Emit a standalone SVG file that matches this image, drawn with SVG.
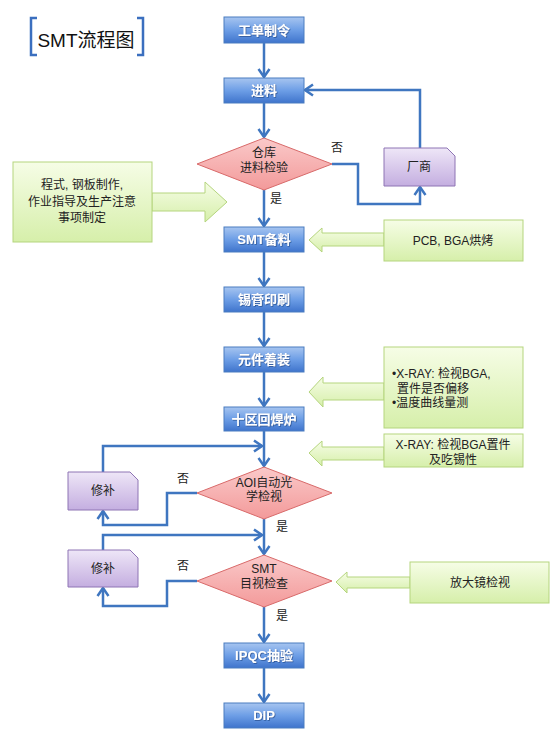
<svg xmlns="http://www.w3.org/2000/svg" width="560" height="745" viewBox="0 0 560 745">
<defs>
<linearGradient id="gBlue" x1="0" y1="0" x2="0" y2="1">
<stop offset="0" stop-color="#a7c5f0"/><stop offset="0.5" stop-color="#6d9ee6"/><stop offset="1" stop-color="#3f74cc"/>
</linearGradient>
<linearGradient id="gRed" x1="0" y1="0" x2="0" y2="1">
<stop offset="0" stop-color="#fac9c9"/><stop offset="1" stop-color="#f39a9a"/>
</linearGradient>
<linearGradient id="gPurple" x1="0" y1="0" x2="0" y2="1">
<stop offset="0" stop-color="#eee6f7"/><stop offset="1" stop-color="#c4aee0"/>
</linearGradient>
<linearGradient id="gGreen" x1="0" y1="0" x2="0" y2="1">
<stop offset="0" stop-color="#f6fde6"/><stop offset="1" stop-color="#d6efaa"/>
</linearGradient>
<marker id="arr" markerUnits="userSpaceOnUse" markerWidth="14" markerHeight="14" viewBox="0 0 14 14" refX="12" refY="7" orient="auto">
<path d="M4,1.5 L12,7 L4,12.5" fill="none" stroke="#3f76c0" stroke-width="2.5"/>
</marker>
<filter id="ts" x="-20%" y="-20%" width="140%" height="140%">
<feDropShadow dx="0.8" dy="0.8" stdDeviation="0.6" flood-color="#1c3f7a" flood-opacity="0.7"/>
</filter>
</defs>
<style>
.box{fill:url(#gBlue);stroke:#4a7cc0;stroke-width:1}
.btxt{font-family:"Liberation Sans","Noto Sans CJK SC",sans-serif;font-size:13px;font-weight:bold;fill:#ffffff;text-anchor:middle}
.dia{fill:url(#gRed);stroke:#d86a6a;stroke-width:1}
.dtxt{font-family:"Liberation Sans","Noto Sans CJK SC",sans-serif;font-size:12px;fill:#222222;text-anchor:middle}
.pur{fill:url(#gPurple);stroke:#8e74b4;stroke-width:1}
.grn{fill:url(#gGreen);stroke:#b5d57e;stroke-width:1}
.txt{font-family:"Liberation Sans","Noto Sans CJK SC",sans-serif;font-size:12px;fill:#222222}
.mid{text-anchor:middle}
.con{fill:none;stroke:#3f76c0;stroke-width:2.5}
</style>
<g id="title">
<path d="M37,18 H31 V55 H37 M137,18 H143 V55 H137" fill="none" stroke="#3b6fbf" stroke-width="2.5"/>
<text x="86" y="47" font-family="Liberation Sans,'Noto Sans CJK SC',sans-serif" font-size="19" fill="#111" text-anchor="middle">SMT流程图</text>
</g>
<g id="connectors">
<path class="con" d="M264,43 V77" marker-end="url(#arr)"/>
<path class="con" d="M264,103 V137" marker-end="url(#arr)"/>
<path class="con" d="M264,190 V226" marker-end="url(#arr)"/>
<path class="con" d="M264,252 V286" marker-end="url(#arr)"/>
<path class="con" d="M264,312 V346" marker-end="url(#arr)"/>
<path class="con" d="M264,372 V406" marker-end="url(#arr)"/>
<path class="con" d="M264,431 V466" marker-end="url(#arr)"/>
<path class="con" d="M264,519 V554" marker-end="url(#arr)"/>
<path class="con" d="M264,607 V642" marker-end="url(#arr)"/>
<path class="con" d="M264,668 V702" marker-end="url(#arr)"/>
<path class="con" d="M332,164 H358 V204 H420 V187" marker-end="url(#arr)"/>
<path class="con" d="M420,148 V90 H305" marker-end="url(#arr)"/>
<path class="con" d="M197,493 H167 V525 H103 V511" marker-end="url(#arr)"/>
<path class="con" d="M103,472 V446 H262" marker-end="url(#arr)"/>
<path class="con" d="M197,581 H167 V606 H103 V588" marker-end="url(#arr)"/>
<path class="con" d="M103,550 V535 H262" marker-end="url(#arr)"/>
</g>
<g id="n1"><rect class="box" x="224" y="17" width="80" height="26"/><text class="btxt" x="264" y="35" filter="url(#ts)">工单制令</text></g>
<g id="n2"><rect class="box" x="224" y="78" width="80" height="25"/><text class="btxt" x="264" y="95" filter="url(#ts)">进料</text></g>
<g id="d1"><polygon class="dia" points="264,138 332,164 264,190 197,164"/><text class="dtxt" x="264" y="157">仓库</text><text class="dtxt" x="264" y="172">进料检验</text></g>
<g id="lbl1"><text class="txt" x="331" y="152">否</text><text class="txt" x="270" y="203">是</text></g>
<g id="vendor"><path class="pur" d="M384,148 H447 L455,156 V186 H384 Z"/><text class="txt mid" x="419" y="171">厂商</text></g>
<g id="c1"><polygon class="grn" points="152,193 205,193 205,182 227,202 205,222 205,211 152,211"/><rect class="grn" x="13" y="162" width="139" height="80"/>
<text class="txt mid" x="82" y="189">程式, 钢板制作,</text><text class="txt mid" x="82" y="206">作业指导及生产注意</text><text class="txt mid" x="82" y="222">事项制定</text></g>
<g id="n3"><rect class="box" x="224" y="227" width="80" height="25"/><text class="btxt" x="264" y="244" filter="url(#ts)">SMT备料</text></g>
<g id="c2"><polygon class="grn" points="384,233 322,233 322,228 309,240 322,252 322,246 384,246"/><rect class="grn" x="384" y="220" width="139" height="41"/><text class="txt mid" x="453" y="245">PCB, BGA烘烤</text></g>
<g id="n4"><rect class="box" x="224" y="287" width="80" height="25"/><text class="btxt" x="264" y="304" filter="url(#ts)">锡膏印刷</text></g>
<g id="n5"><rect class="box" x="224" y="347" width="80" height="25"/><text class="btxt" x="264" y="364" filter="url(#ts)">元件着装</text></g>
<g id="c3"><polygon class="grn" points="384,383 323,383 323,377 309,392 323,407 323,400 384,400"/><rect class="grn" x="384" y="347" width="139" height="81"/>
<text class="txt" x="392" y="378">•X-RAY: 检视BGA,</text><text class="txt" x="397" y="393">置件是否偏移</text><text class="txt" x="392" y="407">•温度曲线量测</text></g>
<g id="n6"><rect class="box" x="224" y="407" width="80" height="24"/><text class="btxt" x="264" y="424" filter="url(#ts)">十区回焊炉</text></g>
<g id="c4"><polygon class="grn" points="384,447 322,447 322,441 309,453 322,466 322,460 384,460"/><rect class="grn" x="384" y="434" width="139" height="33"/>
<text class="txt mid" x="453" y="449">X-RAY: 检视BGA置件</text><text class="txt mid" x="453" y="464">及吃锡性</text></g>
<g id="d2"><polygon class="dia" points="264,467 332,493 264,519 197,493"/><text class="dtxt" x="264" y="487" font-size="11">AOI自动光</text><text class="dtxt" x="264" y="501" font-size="11">学检视</text></g>
<g id="lbl2"><text class="txt" x="177" y="483">否</text><text class="txt" x="276" y="531">是</text></g>
<g id="fix1"><path class="pur" d="M68,472 H130 L138,480 V510 H68 Z"/><text class="txt mid" x="103" y="495">修补</text></g>
<g id="d3"><polygon class="dia" points="264,555 332,581 264,607 197,581"/><text class="dtxt" x="264" y="573" font-size="13">SMT</text><text class="dtxt" x="264" y="588" font-size="13">目视检查</text></g>
<g id="lbl3"><text class="txt" x="177" y="570">否</text><text class="txt" x="276" y="620">是</text></g>
<g id="fix2"><path class="pur" d="M68,550 H130 L138,558 V587 H68 Z"/><text class="txt mid" x="103" y="573">修补</text></g>
<g id="c5"><polygon class="grn" points="410,577 347,577 347,572 336,582 347,593 347,588 410,588"/><rect class="grn" x="410" y="562" width="139" height="41"/><text class="txt mid" x="480" y="587">放大镜检视</text></g>
<g id="n7"><rect class="box" x="224" y="643" width="80" height="25"/><text class="btxt" x="264" y="660" filter="url(#ts)">IPQC抽验</text></g>
<g id="n8"><rect class="box" x="224" y="703" width="80" height="25"/><text class="btxt" x="264" y="720" filter="url(#ts)">DIP</text></g>
</svg>
